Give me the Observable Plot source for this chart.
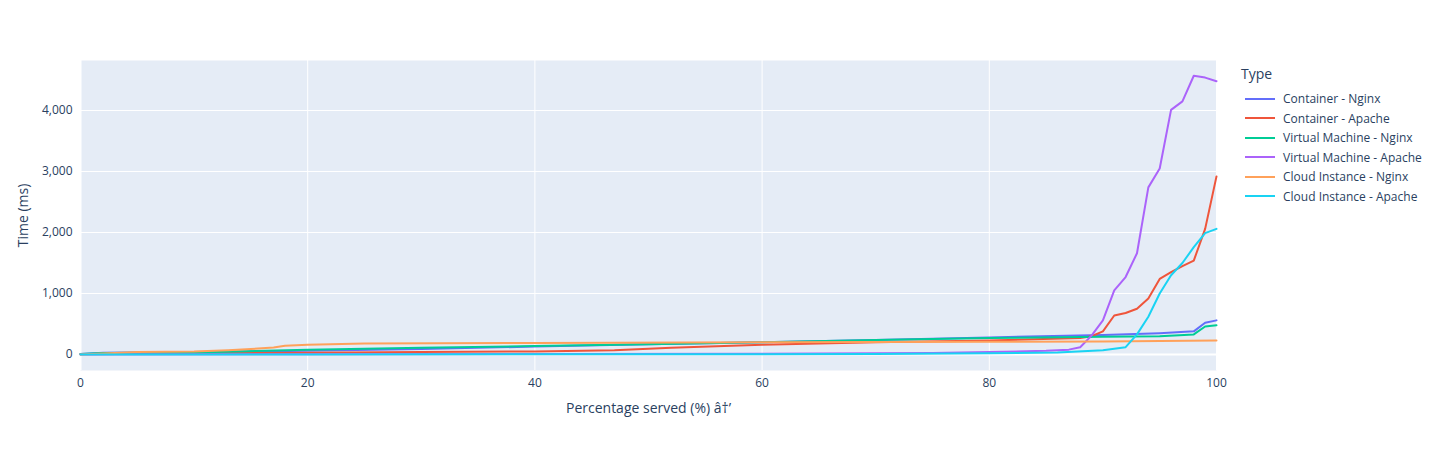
<!DOCTYPE html>
<html><head>
<script src="https://cdn.jsdelivr.net/npm/d3@7"></script>
<script src="https://cdn.jsdelivr.net/npm/@observablehq/plot@0.6"></script>
<style>
body{margin:0;font-family:"Open Sans",sans-serif;background:#fff}
#wrap{position:relative;width:1448px;height:450px}
#legend{position:absolute;left:1241px;top:64px;font-size:12px;color:#2a3f5f}
#legend .t{font-size:14px;margin-bottom:6px}
#legend .r{display:flex;align-items:center;height:19.5px}
#legend .r span{display:inline-block;width:30px;height:2px;margin:0 8px 0 4px}
</style>
</head><body>
<div id="wrap"><div id="chart"></div><div id="legend"></div></div>
<script>
const seriesNames = ["Container - Nginx","Container - Apache","Virtual Machine - Nginx","Virtual Machine - Apache","Cloud Instance - Nginx","Cloud Instance - Apache"];
const colors = ["#636efa","#EF553B","#00cc96","#ab63fa","#FFA15A","#19d3f3"];

const containerNginx = [[0,10],[2,30],[10,40],[20,60],[30,90],[40,130],[50,170],[60,200],[70,240],[77,265],[80,280],[90,320],[95,350],[98,380],[99,520],[100,560]];
const containerApache = [[0,5],[10,15],[20,30],[30,40],[40,50],[47,70],[52,110],[60,160],[70,200],[80,230],[88,270],[89,300],[90,380],[91,640],[92,680],[93,750],[94,920],[95,1240],[96,1350],[97,1450],[98,1540],[99,2060],[100,2920]];
const vmNginx = [[0,10],[2,25],[10,35],[20,80],[30,110],[40,140],[50,170],[60,200],[70,240],[80,270],[90,290],[95,300],[98,330],[99,460],[100,480]];
const vmApache = [[0,0],[20,5],[40,8],[60,12],[75,25],[80,40],[85,60],[87,80],[88,120],[89,310],[90,560],[91,1050],[92,1270],[93,1660],[94,2740],[95,3050],[96,4010],[97,4150],[98,4570],[99,4540],[100,4480]];
const cloudNginx = [[0,0],[5,40],[10,50],[13,70],[15,90],[17,115],[18,145],[20,160],[25,180],[40,190],[60,200],[80,210],[90,215],[100,230]];
const cloudApache = [[0,0],[20,2],[40,4],[60,6],[70,10],[80,20],[86,35],[90,70],[92,120],[93,330],[94,620],[95,1000],[96,1300],[97,1500],[98,1760],[99,1990],[100,2060]];
const allSeries = [containerNginx,containerApache,vmNginx,vmApache,cloudNginx,cloudApache];

const data = allSeries.flatMap((s,i)=>s.map(([x,y])=>({x,y,type:seriesNames[i]})));
const xTicks = [0,20,40,60,80,100];
const yTicks = [0,1000,2000,3000,4000];

const chart = Plot.plot({
  width:1448, height:450,
  marginLeft:80, marginRight:232, marginTop:60, marginBottom:80,
  style:{fontFamily:"Open Sans", fontSize:"12px", color:"#2a3f5f"},
  x:{domain:[0,100], ticks:xTicks, tickSize:0, tickPadding:8, label:"Percentage served (%)", labelAnchor:"center", labelOffset:42},
  y:{domain:[-262,4820], ticks:yTicks, tickSize:0, tickPadding:8, label:"Time (ms)", labelAnchor:"center", labelOffset:62, labelArrow:"none"},
  color:{domain:seriesNames, range:colors},
  marks:[
    Plot.frame({fill:"#E5ECF6", stroke:null}),
    Plot.gridX(xTicks,{stroke:"white", strokeOpacity:1, strokeWidth:1}),
    Plot.gridY(yTicks,{stroke:"white", strokeOpacity:1, strokeWidth:1}),
    Plot.ruleY([0],{stroke:"white", strokeWidth:2}),
    Plot.ruleX([0],{stroke:"white", strokeWidth:2}),
    Plot.line(data,{x:"x", y:"y", z:"type", stroke:"type", strokeWidth:2})
  ]
});
chart.querySelectorAll("[aria-label='x-axis label'] text, [aria-label='y-axis label'] text").forEach(t=>t.style.fontSize="14px");
d3.select("#chart").append(()=>chart);

const lg = d3.select("#legend");
lg.append("div").attr("class","t").text("Type");
seriesNames.forEach((n,i)=>{
  const r = lg.append("div").attr("class","r");
  r.append("span").style("background",colors[i]);
  r.append("div").text(n);
});
</script>
</body></html>
